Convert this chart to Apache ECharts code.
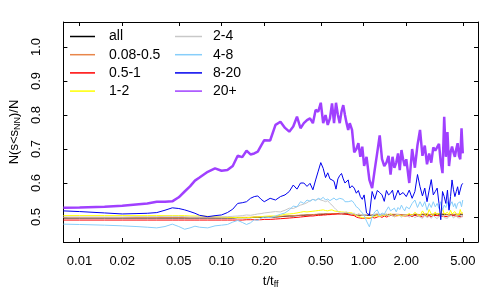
<!DOCTYPE html>
<html><head><meta charset="utf-8">
<script src="https://cdn.jsdelivr.net/npm/echarts@6/dist/echarts.min.js"></script>
<style>html,body{margin:0;padding:0;background:#fff}#c{width:500px;height:300px}</style>
</head><body><div id="c"></div>
<script>
// time grid (t / t_ff)
const times = [0.0077,0.01,0.015,0.02,0.025,0.03,0.035,0.04,0.045,0.05,0.055,0.06,0.065,0.07,0.08,0.09,
0.10,0.11,0.12,0.13,0.14,0.15,0.16,0.17,0.18,0.19,
0.20,0.22,0.24,0.26,0.28,0.30,0.32,0.34,0.36,0.38,0.40,0.42,0.44,0.46,0.48,
0.50,0.52,0.54,0.56,0.58,0.60,0.62,0.64,0.66,0.68,0.70,0.72,0.74,0.76,0.78,0.80,
0.83,0.86,0.89,0.92,0.95,0.98,
1.01,1.05,
1.10,1.15,1.20,1.25,1.30,1.35,1.40,1.45,1.50,1.55,1.60,1.65,1.70,1.75,1.80,1.85,1.90,1.95,
2.0,
2.1,2.2,2.3,2.4,2.5,2.6,2.7,2.8,2.9,3.0,3.1,3.2,3.3,3.4,3.5,3.6,3.7,3.8,3.9,4.0,4.1,4.2,4.3,4.4,4.5,4.6,4.7,4.8,4.9,5.0];

const seriesNames = ['all','0.08-0.5','0.5-1','1-2','2-4','4-8','8-20','20+'];

const vAll = [0.497,0.497,0.497,0.497,0.497,0.497,0.497,0.497,0.497,0.497,0.497,0.497,0.497,0.497,0.497,0.497,
0.497,0.497,0.497,0.498,0.498,0.498,0.498,0.499,0.499,0.499,
0.499,0.500,0.500,0.501,0.502,0.503,0.503,0.504,0.505,0.505,0.506,0.506,0.507,0.507,0.508,
0.508,0.508,0.509,0.509,0.509,0.510,0.510,0.510,0.510,0.510,0.510,0.510,0.509,0.509,0.509,0.508,
0.508,0.507,0.506,0.505,0.505,0.505,
0.505,0.505,
0.505,0.506,0.505,0.506,0.507,0.506,0.507,0.506,0.507,0.507,0.506,0.507,0.506,0.507,0.507,0.506,0.507,0.506,
0.507,
0.507,0.506,0.507,0.507,0.506,0.507,0.508,0.507,0.506,0.507,0.507,0.508,0.506,0.507,0.507,0.508,0.507,0.506,0.507,0.508,0.507,0.507,0.506,0.507,0.508,0.507,0.506,0.507,0.507,0.507];

const v008 = [0.498,0.498,0.498,0.498,0.498,0.498,0.498,0.498,0.498,0.498,0.498,0.498,0.498,0.498,0.498,0.498,
0.498,0.498,0.498,0.499,0.499,0.499,0.499,0.500,0.500,0.500,
0.500,0.501,0.501,0.502,0.503,0.503,0.504,0.505,0.505,0.506,0.506,0.507,0.507,0.508,0.508,
0.509,0.509,0.509,0.510,0.510,0.510,0.510,0.511,0.510,0.510,0.510,0.509,0.509,0.509,0.508,0.508,
0.508,0.507,0.506,0.506,0.505,0.505,
0.505,0.506,
0.506,0.507,0.506,0.507,0.508,0.507,0.508,0.507,0.508,0.508,0.507,0.508,0.507,0.508,0.508,0.507,0.508,0.507,
0.508,
0.508,0.507,0.509,0.508,0.507,0.509,0.508,0.510,0.507,0.508,0.509,0.508,0.510,0.507,0.509,0.508,0.510,0.508,0.507,0.509,0.508,0.510,0.508,0.509,0.508,0.510,0.509,0.508,0.510,0.509];

const v051 = [0.491,0.491,0.491,0.491,0.491,0.491,0.491,0.491,0.491,0.491,0.491,0.491,0.491,0.491,0.491,0.491,
0.491,0.491,0.491,0.491,0.491,0.492,0.492,0.492,0.492,0.492,
0.493,0.493,0.494,0.495,0.496,0.497,0.498,0.499,0.500,0.501,0.502,0.503,0.503,0.504,0.505,
0.505,0.506,0.506,0.507,0.507,0.508,0.508,0.508,0.509,0.509,0.509,0.508,0.509,0.508,0.507,0.506,
0.505,0.504,0.500,0.498,0.497,0.496,
0.495,0.497,
0.496,0.499,0.497,0.500,0.502,0.499,0.503,0.500,0.502,0.505,0.501,0.503,0.500,0.504,0.502,0.505,0.501,0.503,
0.502,
0.504,0.501,0.505,0.502,0.503,0.500,0.506,0.502,0.504,0.501,0.505,0.502,0.504,0.500,0.503,0.508,0.502,0.504,0.501,0.503,0.505,0.502,0.504,0.501,0.503,0.506,0.502,0.504,0.501,0.503];

const v12 = [0.504,0.504,0.504,0.504,0.504,0.504,0.504,0.504,0.504,0.504,0.504,0.503,0.503,0.503,0.502,0.501,
0.500,0.499,0.499,0.498,0.498,0.498,0.499,0.500,0.500,0.501,
0.502,0.503,0.503,0.505,0.508,0.509,0.510,0.512,0.514,0.516,0.515,0.516,0.517,0.518,0.519,
0.520,0.521,0.519,0.518,0.520,0.521,0.518,0.520,0.516,0.518,0.515,0.517,0.514,0.516,0.513,0.510,
0.512,0.508,0.505,0.502,0.500,0.498,
0.499,0.497,
0.498,0.500,0.502,0.505,0.500,0.507,0.503,0.508,0.502,0.510,0.505,0.500,0.506,0.511,0.504,0.509,0.503,0.507,
0.505,
0.510,0.504,0.514,0.507,0.503,0.518,0.508,0.504,0.522,0.509,0.505,0.515,0.506,0.512,0.504,0.526,0.508,0.505,0.514,0.507,0.520,0.509,0.504,0.516,0.508,0.512,0.506,0.522,0.510,0.513];

const v24 = [0.500,0.500,0.500,0.500,0.501,0.501,0.501,0.502,0.502,0.502,0.501,0.500,0.500,0.500,0.500,0.500,
0.500,0.501,0.502,0.503,0.504,0.506,0.505,0.507,0.509,0.510,
0.512,0.514,0.516,0.515,0.520,0.526,0.525,0.530,0.535,0.538,0.542,0.548,0.552,0.550,0.553,
0.550,0.548,0.545,0.548,0.540,0.535,0.528,0.522,0.518,0.512,0.509,0.512,0.510,0.515,0.512,0.510,
0.508,0.512,0.505,0.510,0.508,0.505,
0.510,0.506,
0.511,0.505,0.508,0.512,0.503,0.508,0.506,0.510,0.502,0.507,0.505,0.500,0.508,0.503,0.506,0.499,0.505,0.502,
0.506,
0.499,0.505,0.498,0.503,0.500,0.496,0.505,0.498,0.502,0.496,0.504,0.499,0.495,0.502,0.497,0.505,0.498,0.502,0.496,0.503,0.499,0.504,0.497,0.501,0.505,0.498,0.502,0.497,0.503,0.500];

const v48 = [0.479,0.478,0.476,0.474,0.472,0.470,0.468,0.472,0.479,0.472,0.464,0.468,0.473,0.470,0.468,0.474,
0.476,0.478,0.485,0.490,0.484,0.478,0.483,0.492,0.490,0.496,
0.500,0.498,0.503,0.508,0.512,0.521,0.532,0.530,0.545,0.540,0.550,0.546,0.552,0.548,0.555,
0.552,0.558,0.550,0.553,0.548,0.552,0.556,0.550,0.548,0.555,0.560,0.552,0.545,0.540,0.545,0.540,
0.548,0.540,0.530,0.526,0.518,0.512,
0.505,0.488,
0.471,0.500,0.515,0.521,0.505,0.512,0.508,0.520,0.530,0.518,0.522,0.526,0.515,0.528,0.522,0.535,0.525,0.518,
0.530,
0.524,0.540,0.550,0.528,0.545,0.530,0.545,0.520,0.540,0.528,0.545,0.530,0.540,0.525,0.545,0.520,0.535,0.528,0.545,0.525,0.538,0.545,0.530,0.540,0.525,0.540,0.535,0.545,0.530,0.550];

const v820 = [0.518,0.516,0.512,0.509,0.510,0.511,0.513,0.520,0.527,0.525,0.521,0.516,0.511,0.505,0.501,0.504,
0.506,0.513,0.523,0.540,0.542,0.545,0.555,0.560,0.562,0.552,
0.545,0.555,0.550,0.560,0.565,0.575,0.594,0.582,0.600,0.600,0.590,0.599,0.580,0.609,0.635,
0.660,0.643,0.616,0.630,0.612,0.609,0.605,0.582,0.612,0.622,0.628,0.612,0.600,0.605,0.609,0.585,
0.592,0.585,0.570,0.578,0.560,0.552,
0.565,0.512,
0.505,0.575,0.552,0.578,0.572,0.565,0.546,0.578,0.565,0.570,0.579,0.550,0.565,0.579,0.565,0.562,0.572,0.570,
0.560,
0.579,0.555,0.575,0.625,0.589,0.562,0.585,0.545,0.579,0.610,0.565,0.575,0.585,0.540,0.492,0.575,0.560,0.540,0.579,0.520,0.560,0.609,0.580,0.560,0.575,0.589,0.565,0.570,0.594,0.599];

const v20p = [0.527,0.528,0.530,0.533,0.537,0.540,0.545,0.545,0.546,0.558,0.575,0.590,0.607,0.616,0.633,0.643,
0.636,0.638,0.650,0.680,0.676,0.695,0.684,0.687,0.692,0.710,
0.726,0.725,0.771,0.780,0.762,0.751,0.766,0.795,0.761,0.776,0.785,0.790,0.776,0.815,0.810,
0.836,0.776,0.800,0.771,0.790,0.834,0.776,0.836,0.800,0.776,0.810,0.829,0.800,0.776,0.756,0.776,
0.756,0.690,0.700,0.717,0.677,0.707,
0.650,0.677,
0.609,0.585,0.640,0.690,0.740,0.670,0.650,0.660,0.680,0.625,0.677,0.645,0.660,0.687,0.638,0.697,0.670,0.650,
0.670,
0.600,0.700,0.645,0.712,0.756,0.680,0.710,0.655,0.687,0.660,0.705,0.695,0.700,0.715,0.660,0.629,0.795,0.677,0.750,0.650,0.690,0.707,0.690,0.677,0.700,0.717,0.680,0.670,0.761,0.687];

const xTickVals = [0.01,0.02,0.05,0.1,0.2,0.5,1,2,5];
const yTickVals = [0.5,0.6,0.7,0.8,0.9,1.0];

const seriesValues = [vAll,v008,v051,v12,v24,v48,v820,v20p];
const colors = ['#000000','#e8864a','#ff0000','#ffff00','#c8c8c8','#87cefa','#0000ee','#a040ff'];
const widths = [1,1,1,1,1,1,1,2.5];

const FONT = 'Liberation Sans, Arial, sans-serif';
const chart = echarts.init(document.getElementById('c'), null, {renderer:'canvas'});

const series = seriesNames.map((n,k)=>({
  name:n, type:'line', symbol:'none', showSymbol:false, animation:false,
  xAxisIndex:0, yAxisIndex:0,
  data: times.map((t,i)=>[t, seriesValues[k][i]]),
  lineStyle:{color:colors[k], width:widths[k]}, itemStyle:{color:colors[k]}
}));

const legendBase = {orient:'vertical', padding:0, icon:'rect', itemHeight:1.5, itemGap:4.2, selectedMode:false,
  textStyle:{fontSize:14, fontFamily:FONT, color:'#000', lineHeight:14}};

const axisLineStyle = {show:true, onZero:false, lineStyle:{color:'#000', width:1}};
chart.setOption({
  animation:false,
  grid:{left:57, right:22, top:22, bottom:58, containLabel:false},
  legend:[
    Object.assign({}, legendBase, {data:seriesNames.slice(0,4), left:70, top:29.5, itemWidth:25,
      textStyle:Object.assign({}, legendBase.textStyle, {padding:[0,0,0,9]})}),
    Object.assign({}, legendBase, {data:seriesNames.slice(4), left:175, top:29.5, itemWidth:27,
      textStyle:Object.assign({}, legendBase.textStyle, {padding:[0,0,0,6]})})
  ],
  xAxis:[
    {type:'log', logBase:10, min:0.0077, max:6.4, position:'bottom',
     axisLine:axisLineStyle,
     axisTick:{show:true, inside:true, length:4, customValues:xTickVals, lineStyle:{color:'#000'}},
     axisLabel:{customValues:xTickVals, formatter:v=>Number(v).toFixed(2), color:'#000', fontSize:13, fontFamily:FONT, margin:13},
     splitLine:{show:false}, minorTick:{show:false},
     name:'{a|t/t}{b|ff}', nameLocation:'middle', nameGap:31,
     nameTextStyle:{color:'#000', rich:{a:{fontSize:13, fontFamily:FONT, color:'#000'}, b:{fontSize:9, fontFamily:FONT, color:'#000', padding:[7,0,0,0]}}}},
    {type:'log', logBase:10, min:0.0077, max:6.4, position:'top',
     axisLine:axisLineStyle,
     axisTick:{show:true, inside:true, length:4, customValues:xTickVals, lineStyle:{color:'#000'}},
     axisLabel:{show:false}, splitLine:{show:false}, minorTick:{show:false}}
  ],
  yAxis:[
    {type:'value', min:0.4265, max:1.0735, position:'left',
     axisLine:axisLineStyle,
     axisTick:{show:true, inside:true, length:4, customValues:yTickVals, lineStyle:{color:'#000'}},
     axisLabel:{customValues:yTickVals, formatter:v=>Number(v).toFixed(1), rotate:90, color:'#000', fontSize:13, fontFamily:FONT, margin:20},
     splitLine:{show:false},
     name:'{a|N(s<s}{b|NN}{a|)/N}', nameLocation:'middle', nameGap:37, nameRotate:90,
     nameTextStyle:{color:'#000', rich:{a:{fontSize:13, fontFamily:FONT, color:'#000'}, b:{fontSize:9, fontFamily:FONT, color:'#000', padding:[7,0,0,0]}}}},
    {type:'value', min:0.4265, max:1.0735, position:'right',
     axisLine:axisLineStyle,
     axisTick:{show:true, inside:true, length:4, customValues:yTickVals, lineStyle:{color:'#000'}},
     axisLabel:{show:false}, splitLine:{show:false}}
  ],
  series: series
});
</script>
</body></html>
